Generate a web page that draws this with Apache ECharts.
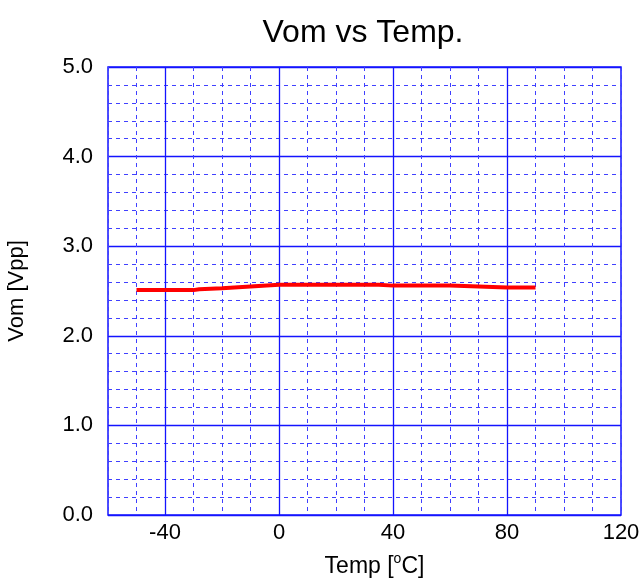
<!DOCTYPE html>
<html><head><meta charset="utf-8">
<script src="https://cdn.jsdelivr.net/npm/echarts@6/dist/echarts.min.js"></script>
<style>html,body{margin:0;padding:0;background:#fff}#c{width:643px;height:583px}</style>
</head><body><div id="c"></div>
<script>
const temps = [-50, -40, -30, -28, -20, -10, 0, 10, 20, 30, 35, 40, 50, 60, 70, 80, 90];
const vom   = [2.51, 2.51, 2.51, 2.52, 2.53, 2.55, 2.57, 2.57, 2.57, 2.57, 2.57, 2.56, 2.56, 2.56, 2.55, 2.54, 2.54];
const xMajor = [-40, 0, 40, 80];
const xLabels = [-40, 0, 40, 80, 120];

const chart = echarts.init(document.getElementById('c'), null, {renderer: 'canvas'});
const font = 'Liberation Sans, Arial, sans-serif';
const solid = '#1414ff';
const dashed = '#4040ff';
chart.setOption({
  animation: false,
  backgroundColor: '#fff',
  title: {
    text: 'Vom vs Temp.', left: 358, top: 12, textAlign: 'center',
    textStyle: {fontFamily: font, fontSize: 32, fontWeight: 'normal', color: '#000'}
  },
  grid: {left: 108, right: 22, top: 67, bottom: 68, containLabel: false, outerBoundsMode: 'none',
         show: true, borderColor: solid, borderWidth: 1.5},
  xAxis: {
    type: 'value', min: -60, max: 120, interval: 10,
    axisLine: {show: false}, axisTick: {show: false},
    splitLine: {show: true, lineStyle: {color: dashed, type: [4, 4], width: 1}},
    axisLabel: {
      margin: 7, color: '#000', fontFamily: font, fontSize: 22,
      formatter: v => xLabels.includes(v) ? String(v) : ''
    },
    name: '{a|Temp [}{s|o}{a|C]}', nameLocation: 'middle', nameGap: 37,
    nameTextStyle: {
      padding: [0, 0, 0, 20],
      rich: {
        a: {fontFamily: font, fontSize: 23, color: '#000', verticalAlign: 'bottom', lineHeight: 26},
        s: {fontFamily: font, fontSize: 14, color: '#000', verticalAlign: 'top', lineHeight: 26, padding: [0, 0, 10, 0]}
      }
    }
  },
  yAxis: {
    type: 'value', min: 0, max: 5, interval: 1,
    axisLine: {show: false}, axisTick: {show: false},
    splitLine: {show: true, lineStyle: {color: solid, width: 1.3}},
    minorTick: {show: false, splitNumber: 5},
    minorSplitLine: {show: true, lineStyle: {color: dashed, type: [4, 4], width: 1}},
    axisLabel: {margin: 15, color: '#000', fontFamily: font, fontSize: 22, formatter: v => v.toFixed(1)},
    name: 'Vom [Vpp]', nameLocation: 'middle', nameGap: 80, nameRotate: 90,
    nameTextStyle: {fontFamily: font, fontSize: 22, color: '#000'}
  },
  series: [
    {
      type: 'line', data: temps.map((t, i) => [t, vom[i]]),
      showSymbol: false, symbol: 'none',
      lineStyle: {color: '#ff0000', width: 4},
      z: 5,
      markLine: {
        silent: true, symbol: 'none', label: {show: false},
        lineStyle: {color: solid, type: 'solid', width: 1.3, opacity: 1},
        emphasis: {disabled: true},
        data: xMajor.map(x => ({xAxis: x}))
      }
    }
  ]
});
</script></body></html>
